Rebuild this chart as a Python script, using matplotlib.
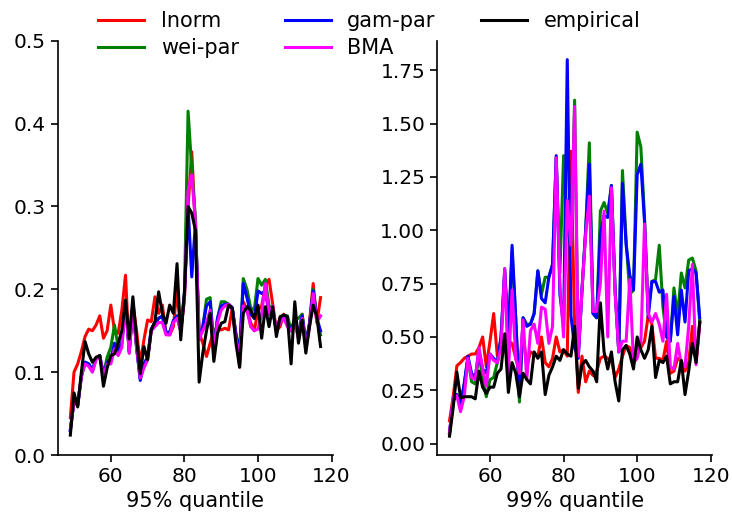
import numpy as np
import matplotlib
matplotlib.use("Agg")
import matplotlib.pyplot as plt

x = list(range(49, 118))

# 95% quantile
lnorm95 = [0.045, 0.100, 0.110, 0.125, 0.143, 0.152, 0.150, 0.157, 0.168, 0.141,
           0.150, 0.181, 0.150, 0.147, 0.175, 0.217, 0.123, 0.183, 0.150, 0.110,
           0.139, 0.163, 0.161, 0.191, 0.171, 0.181, 0.147, 0.145, 0.155, 0.200,
           0.150, 0.187, 0.300, 0.366, 0.275, 0.147, 0.135, 0.119, 0.135, 0.149,
           0.155, 0.151, 0.153, 0.151, 0.177, 0.147, 0.106, 0.185, 0.175, 0.160,
           0.150, 0.175, 0.180, 0.205, 0.212, 0.182, 0.150, 0.155, 0.170, 0.160,
           0.150, 0.155, 0.145, 0.170, 0.130, 0.160, 0.207, 0.160, 0.190]
wei95 = [0.030, 0.065, 0.060, 0.095, 0.112, 0.110, 0.102, 0.117, 0.120, 0.097,
         0.118, 0.130, 0.157, 0.130, 0.135, 0.185, 0.125, 0.180, 0.130, 0.092,
         0.110, 0.118, 0.152, 0.160, 0.165, 0.168, 0.148, 0.148, 0.162, 0.168,
         0.150, 0.195, 0.415, 0.345, 0.285, 0.140, 0.155, 0.188, 0.190, 0.130,
         0.165, 0.185, 0.185, 0.182, 0.178, 0.145, 0.125, 0.213, 0.200, 0.178,
         0.175, 0.213, 0.205, 0.212, 0.180, 0.175, 0.150, 0.165, 0.168, 0.168,
         0.150, 0.165, 0.165, 0.170, 0.135, 0.158, 0.200, 0.165, 0.145]
gam95 = [0.030, 0.065, 0.060, 0.095, 0.112, 0.110, 0.102, 0.117, 0.120, 0.097,
         0.112, 0.115, 0.135, 0.125, 0.135, 0.185, 0.125, 0.180, 0.130, 0.090,
         0.110, 0.118, 0.152, 0.160, 0.165, 0.168, 0.148, 0.148, 0.162, 0.168,
         0.150, 0.195, 0.300, 0.215, 0.280, 0.140, 0.155, 0.180, 0.185, 0.130,
         0.165, 0.180, 0.182, 0.182, 0.178, 0.145, 0.125, 0.207, 0.190, 0.170,
         0.165, 0.198, 0.195, 0.198, 0.170, 0.175, 0.150, 0.165, 0.168, 0.160,
         0.150, 0.165, 0.145, 0.168, 0.135, 0.158, 0.198, 0.165, 0.150]
bma95 = [0.030, 0.065, 0.060, 0.095, 0.110, 0.107, 0.100, 0.115, 0.119, 0.095,
         0.110, 0.110, 0.128, 0.120, 0.130, 0.183, 0.123, 0.177, 0.130, 0.093,
         0.105, 0.115, 0.150, 0.155, 0.160, 0.160, 0.145, 0.145, 0.160, 0.165,
         0.150, 0.190, 0.320, 0.338, 0.280, 0.140, 0.150, 0.160, 0.175, 0.130,
         0.160, 0.175, 0.180, 0.182, 0.175, 0.140, 0.120, 0.180, 0.175, 0.155,
         0.150, 0.152, 0.170, 0.207, 0.170, 0.180, 0.150, 0.160, 0.165, 0.155,
         0.150, 0.160, 0.140, 0.165, 0.130, 0.155, 0.195, 0.160, 0.168]
emp95 = [0.024, 0.075, 0.058, 0.100, 0.137, 0.122, 0.112, 0.118, 0.120, 0.083,
         0.105, 0.120, 0.122, 0.135, 0.150, 0.187, 0.140, 0.191, 0.140, 0.098,
         0.131, 0.115, 0.151, 0.161, 0.197, 0.171, 0.159, 0.181, 0.171, 0.231,
         0.139, 0.195, 0.300, 0.292, 0.271, 0.088, 0.123, 0.150, 0.171, 0.113,
         0.147, 0.159, 0.161, 0.181, 0.177, 0.135, 0.106, 0.171, 0.179, 0.175,
         0.165, 0.181, 0.141, 0.179, 0.155, 0.179, 0.143, 0.167, 0.169, 0.167,
         0.110, 0.185, 0.135, 0.163, 0.123, 0.155, 0.181, 0.167, 0.131]

# 99% quantile
lnorm99 = [0.107, 0.22, 0.365, 0.38, 0.40, 0.41, 0.42, 0.42, 0.45, 0.50,
           0.36, 0.48, 0.61, 0.41, 0.48, 0.47, 0.48, 0.47, 0.40, 0.34,
           0.52, 0.36, 0.43, 0.42, 0.41, 0.50, 0.38, 0.36, 0.40, 0.50,
           0.43, 0.44, 0.41, 1.37, 0.55, 0.24, 0.41, 0.29, 0.34, 0.32,
           0.34, 0.40, 0.41, 0.40, 0.39, 0.31, 0.35, 0.41, 0.46, 0.45,
           0.38, 0.46, 0.45, 0.48, 0.60, 0.56, 0.40, 0.40, 0.39, 0.48,
           0.33, 0.34, 0.40, 0.39, 0.34, 0.38, 0.55, 0.39, 0.57]
wei99 = [0.05, 0.20, 0.23, 0.18, 0.28, 0.40, 0.29, 0.28, 0.43, 0.30,
         0.22, 0.30, 0.31, 0.38, 0.50, 0.80, 0.50, 0.90, 0.58, 0.195,
         0.59, 0.56, 0.56, 0.61, 0.81, 0.70, 0.78, 0.78, 0.84, 1.34,
         0.80, 1.35, 1.00, 0.93, 1.61, 0.42, 0.72, 1.00, 1.41, 0.61,
         0.59, 1.09, 1.13, 1.08, 1.21, 0.72, 0.43, 1.28, 0.95, 0.70,
         0.72, 1.46, 1.39, 1.06, 0.62, 0.76, 0.77, 0.93, 0.64, 0.50,
         0.48, 0.73, 0.60, 0.80, 0.73, 0.86, 0.87, 0.81, 0.57]
gam99 = [0.05, 0.20, 0.23, 0.18, 0.28, 0.41, 0.33, 0.31, 0.44, 0.35,
         0.33, 0.42, 0.40, 0.38, 0.50, 0.82, 0.50, 0.93, 0.59, 0.22,
         0.59, 0.55, 0.56, 0.61, 0.81, 0.68, 0.66, 0.78, 0.84, 1.35,
         0.70, 0.55, 1.80, 0.60, 0.45, 0.40, 0.72, 1.00, 1.31, 0.61,
         0.59, 0.98, 1.07, 1.06, 1.21, 0.72, 0.43, 1.22, 0.93, 0.79,
         0.72, 1.26, 1.31, 1.04, 0.59, 0.76, 0.76, 0.71, 0.72, 0.50,
         0.48, 0.69, 0.51, 0.72, 0.57, 0.81, 0.82, 0.80, 0.59]
bma99 = [0.05, 0.22, 0.225, 0.15, 0.22, 0.40, 0.31, 0.30, 0.45, 0.35,
         0.27, 0.42, 0.39, 0.38, 0.45, 0.82, 0.33, 0.72, 0.40, 0.33,
         0.58, 0.30, 0.53, 0.56, 0.47, 0.64, 0.63, 0.47, 0.55, 1.34,
         0.75, 0.50, 1.14, 0.93, 1.58, 0.41, 0.72, 0.98, 1.16, 0.62,
         0.62, 0.75, 1.09, 0.50, 1.20, 0.70, 0.43, 0.48, 0.48, 0.77,
         0.38, 0.40, 0.47, 1.03, 0.61, 0.57, 0.61, 0.56, 0.48, 0.70,
         0.36, 0.35, 0.47, 0.37, 0.36, 0.55, 0.84, 0.37, 0.56]
emp99 = [0.035, 0.17, 0.335, 0.215, 0.22, 0.22, 0.22, 0.21, 0.34, 0.265,
         0.235, 0.265, 0.265, 0.33, 0.35, 0.515, 0.24, 0.38, 0.33, 0.22,
         0.33, 0.30, 0.28, 0.43, 0.40, 0.43, 0.23, 0.32, 0.36, 0.41,
         0.39, 0.44, 0.42, 0.41, 0.55, 0.26, 0.37, 0.39, 0.36, 0.34,
         0.29, 0.66, 0.43, 0.35, 0.43, 0.29, 0.20, 0.44, 0.46, 0.42,
         0.35, 0.50, 0.44, 0.40, 0.44, 0.55, 0.31, 0.39, 0.38, 0.41,
         0.28, 0.29, 0.29, 0.39, 0.23, 0.34, 0.47, 0.38, 0.57]

labels = ["lnorm", "wei-par", "gam-par", "BMA", "empirical"]
colors = ["red", "green", "blue", "magenta", "black"]
xlabels = ["95% quantile", "99% quantile"]
xticks = [60, 80, 100, 120]
yticks95 = [0.0, 0.1, 0.2, 0.3, 0.4, 0.5]
yticks99 = [0.00, 0.25, 0.50, 0.75, 1.00, 1.25, 1.50, 1.75]

plt.rcParams['font.family'] = ['DejaVu Sans']
plt.rcParams['font.size'] = 15

fig = plt.figure(figsize=(7.32, 5.23), dpi=100)
ax1 = fig.add_axes([0.079, 0.130, 0.376, 0.792])
ax2 = fig.add_axes([0.597, 0.130, 0.376, 0.792])

sets = [
    (ax1, [lnorm95, wei95, gam95, bma95, emp95], yticks95),
    (ax2, [lnorm99, wei99, gam99, bma99, emp99], yticks99),
]
for i, (ax, series, yt) in enumerate(sets):
    for s, lab, c in zip(series, labels, colors):
        ax.plot(x, s, color=c, lw=2.2, label=lab)
    ax.set_xticks(xticks)
    ax.set_yticks(yt)
    ax.set_xlabel(xlabels[i], fontsize=15)
    for sp in ["top", "right"]:
        ax.spines[sp].set_visible(False)
    for sp in ["left", "bottom"]:
        ax.spines[sp].set_linewidth(1.2)
    ax.tick_params(direction="out", length=5, width=1.2, labelsize=14.5)

ax1.set_ylim(0, 0.5)
ax1.set_yticklabels([f"{v:.1f}" for v in yticks95])
ax2.set_yticklabels([f"{v:.2f}" for v in yticks99])

handles, labs = ax1.get_legend_handles_labels()
fig.legend(handles, labs, loc="upper center", bbox_to_anchor=(0.505, 1.015),
           ncol=3, frameon=False, fontsize=15, handlelength=2.2,
           columnspacing=2.2, labelspacing=0.35)

fig.savefig("out.png", dpi=100)
